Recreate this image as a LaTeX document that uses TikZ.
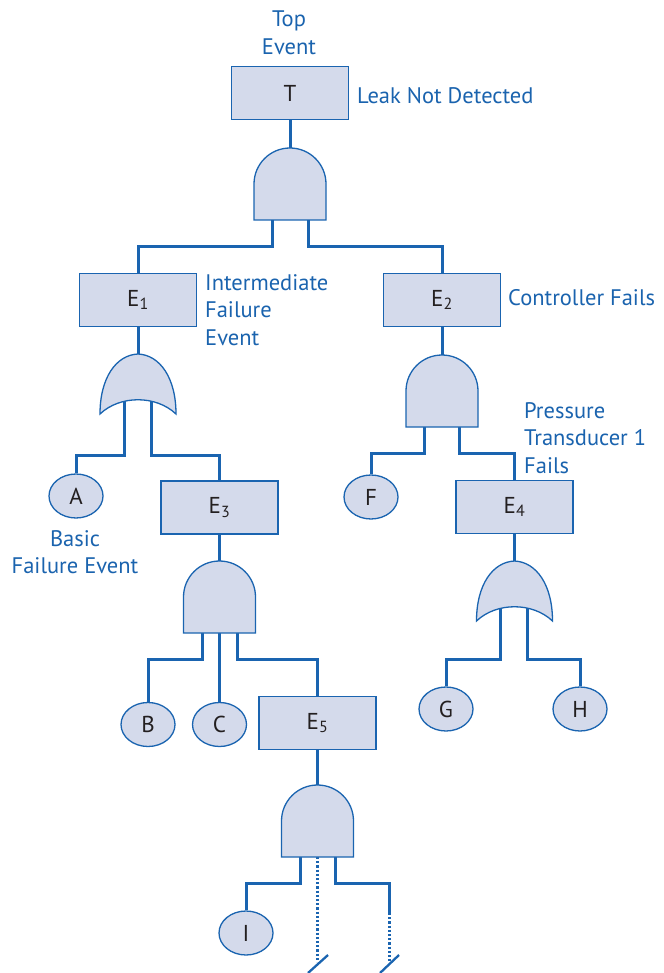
\documentclass[tikz,border=0pt]{standalone}
\usepackage{fontspec}
\setmainfont{PT Sans}
\usetikzlibrary{shapes.geometric}
\definecolor{lineblue}{HTML}{1A64B0}
\definecolor{boxfill}{HTML}{D4DAEB}
\definecolor{txtblue}{HTML}{1A63AE}
\definecolor{ink}{HTML}{231F20}
\tikzset{
  conn/.style={draw=lineblue, line width=3pt},
  dotconn/.style={draw=lineblue, line width=3pt, dash pattern=on 2.2pt off 2pt},
  ev/.style={rectangle, draw=lineblue, fill=boxfill, line width=1.3pt, minimum width=117pt, minimum height=53pt, inner sep=0pt, font=\fontsize{23}{26}\selectfont, text=ink},
  basic/.style={ellipse, draw=lineblue, fill=boxfill, line width=1.3pt, minimum width=54pt, minimum height=44pt, inner sep=0pt, font=\fontsize{23}{26}\selectfont, text=ink},
  lbl/.style={text=txtblue, font=\fontsize{22.5}{27.5}\selectfont, inner sep=0pt},
  gatestyle/.style={draw=lineblue, fill=boxfill, line width=1.3pt},
  andgate/.pic={\path[gatestyle] (-36,-72) -- (-36,-36) arc[start angle=180,end angle=0,radius=36] -- (36,-72) -- cycle;},
  orgate/.pic={\path[gatestyle] (-38,-60) .. controls (-38,-24) and (-22,-1) .. (0,0) .. controls (22,-1) and (38,-24) .. (38,-60) .. controls (18,-41) and (-18,-41) .. (-38,-60) -- cycle;}
}
\begin{document}
\begin{tikzpicture}[x=1pt,y=1pt]
\useasboundingbox (0,0) rectangle (663,-973);
% event boxes
\node[ev] (T) at (290,-93) {T};
\node[ev] (E1) at (138,-300) {E\textsubscript{1}};
\node[ev] (E2) at (442,-300) {E\textsubscript{2}};
\node[ev] (E3) at (219.5,-507.5) {E\textsubscript{3}};
\node[ev] (E4) at (514.5,-507) {E\textsubscript{4}};
\node[ev] (E5) at (317.5,-723) {E\textsubscript{5}};
% basic events
\node[basic] (A) at (76,-496) {A};
\node[basic] (F) at (371,-497) {F};
\node[basic] (B) at (148,-724.5) {B};
\node[basic] (C) at (219.5,-724.5) {C};
\node[basic] (G) at (446,-709) {G};
\node[basic] (H) at (580,-709) {H};
\node[basic] (I) at (246,-933) {I};
% gate anchors
\coordinate (g0) at (290,-148);
\coordinate (g1) at (138,-354);
\coordinate (g2) at (442,-355);
\coordinate (g3) at (219.5,-561);
\coordinate (g4) at (514.5,-561);
\coordinate (g5) at (317.5,-785);
% legs
\coordinate (g0l) at (272,-220);
\coordinate (g0r) at (308,-220);
\coordinate (g1l) at (124,-390);
\coordinate (g1r) at (151,-390);
\coordinate (g2l) at (424.5,-426);
\coordinate (g2r) at (459.5,-426);
\coordinate (g3l) at (202,-632);
\coordinate (g3m) at (219.5,-632);
\coordinate (g3r) at (237,-632);
\coordinate (g4l) at (500,-595);
\coordinate (g4r) at (527,-595);
\coordinate (g5l) at (300,-857);
\coordinate (g5m) at (317.5,-857);
\coordinate (g5r) at (335,-857);
\coordinate (r5a) at (389,-913);
\coordinate (m5e) at (317.5,-962);
\coordinate (r5e) at (389,-962);
\coordinate (s1a) at (308,-973);
\coordinate (s1b) at (328,-955);
\coordinate (s2a) at (380,-973);
\coordinate (s2b) at (399,-955);
% connectors
\draw[conn] (T.south) -- (g0);
\draw[conn] (E1.south) -- (g1);
\draw[conn] (E2.south) -- (g2);
\draw[conn] (E3.south) -- (g3);
\draw[conn] (E4.south) -- (g4);
\draw[conn] (E5.south) -- (g5);
\draw[conn] (g0l) -- ++(0,-27) -| (E1.north);
\draw[conn] (g0r) -- ++(0,-27) -| (E2.north);
\draw[conn] (g1l) -- ++(0,-65) -| (A.north);
\draw[conn] (g1r) -- ++(0,-65) -| (E3.north);
\draw[conn] (g2l) -- ++(0,-27) -| (F.north);
\draw[conn] (g2r) -- ++(0,-27) -| (E4.north);
\draw[conn] (g3l) -- ++(0,-27) -| (B.north);
\draw[conn] (g3m) -- (C.north);
\draw[conn] (g3r) -- ++(0,-27) -| (E5.north);
\draw[conn] (g4l) -- ++(0,-64) -| (G.north);
\draw[conn] (g4r) -- ++(0,-64) -| (H.north);
\draw[conn] (g5l) -- ++(0,-26) -| (I.north);
\draw[conn] (g5r) -- ++(0,-26) -| (r5a);
\draw[dotconn] (g5m) -- (m5e);
\draw[dotconn] (r5a) -- (r5e);
\draw[draw=lineblue, line width=2.3pt] (s1a) -- (s1b);
\draw[draw=lineblue, line width=2.3pt] (s2a) -- (s2b);
% gates
\pic at (g0) {andgate};
\pic at (g1) {orgate};
\pic at (g2) {andgate};
\pic at (g3) {andgate};
\pic at (g4) {orgate};
\pic at (g5) {andgate};
% labels
\node[lbl, align=center] (topev) at (289,-33) {Top\\Event};
\node[lbl, anchor=west] (leak) at (357,-96) {Leak Not Detected};
\node[lbl, anchor=west, align=left] (interm) at (205,-310) {Intermediate\\Failure\\Event};
\node[lbl, anchor=west] (ctrl) at (508,-298) {Controller Fails};
\node[lbl, anchor=west, align=left] (press) at (524,-438) {Pressure\\Transducer 1\\Fails};
\node[lbl, align=center] (basicl) at (75,-552) {Basic\\Failure Event};
\end{tikzpicture}
\end{document}
